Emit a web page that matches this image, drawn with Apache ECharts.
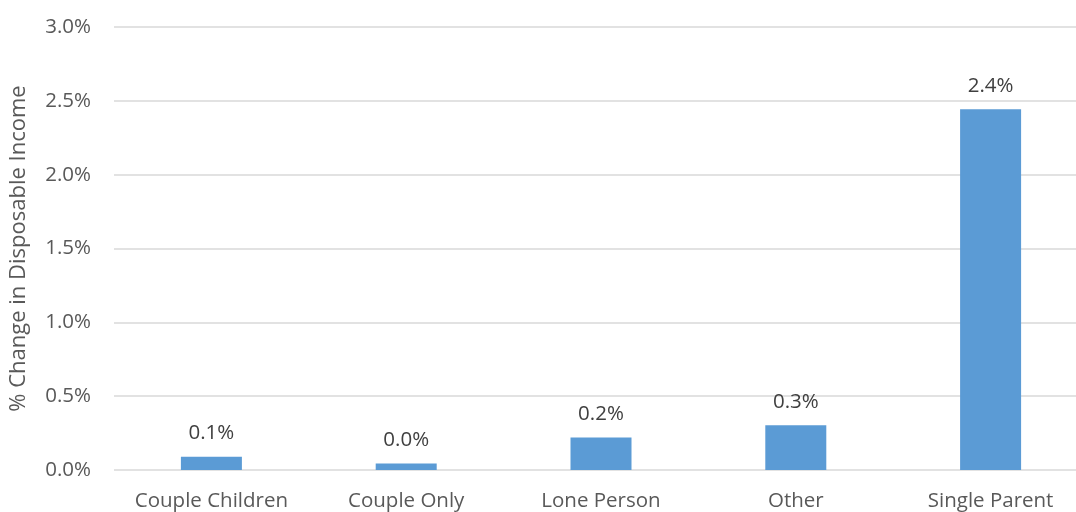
<!DOCTYPE html>
<html>
<head>
<meta charset="utf-8">
<script src="https://cdn.jsdelivr.net/npm/echarts@6/dist/echarts.min.js"></script>
<style>
  html, body { margin: 0; padding: 0; background: #ffffff; overflow: hidden; }
  #chart { width: 1088px; height: 512px; }
</style>
</head>
<body>
<div id="chart"></div>
<script>
// Household types and the % change in disposable income for each
const categories = ['Couple Children', 'Couple Only', 'Lone Person', 'Other', 'Single Parent'];
const changePct = [0.09, 0.044, 0.22, 0.303, 2.443];
const yTicks = [0, 0.5, 1.0, 1.5, 2.0, 2.5, 3.0];

const chart = echarts.init(document.getElementById('chart'), null, { renderer: 'canvas' });
const fontFamily = '"Open Sans", "Noto Sans", sans-serif';
const textColor = '#595959';

chart.setOption({
  animation: false,
  grid: { left: 113, right: 0, top: 27, bottom: 42, containLabel: false },
  xAxis: {
    type: 'category',
    data: categories,
    axisLine: { show: false },
    axisTick: { show: false },
    axisLabel: {
      color: textColor,
      fontFamily: fontFamily,
      fontSize: 20.5,
      margin: 21,
      interval: 0
    }
  },
  yAxis: {
    type: 'value',
    min: yTicks[0],
    max: yTicks[yTicks.length - 1],
    interval: 0.5,
    name: '% Change in Disposable Income',
    nameLocation: 'middle',
    nameGap: 84,
    nameRotate: 90,
    nameTextStyle: { color: textColor, fontFamily: fontFamily, fontSize: 22 },
    axisLine: { show: false },
    axisTick: { show: false },
    axisLabel: {
      color: textColor,
      fontFamily: fontFamily,
      fontSize: 20.5,
      margin: 23,
      formatter: v => v.toFixed(1) + '%'
    },
    splitLine: { lineStyle: { color: '#d9d9d9', width: 1.5 } }
  },
  series: [{
    type: 'bar',
    data: changePct,
    barWidth: 61,
    itemStyle: { color: '#5b9bd5' },
    label: {
      show: true,
      position: 'top',
      distance: 13,
      color: '#404040',
      fontFamily: fontFamily,
      fontSize: 20.5,
      formatter: p => p.value.toFixed(1) + '%'
    }
  }]
});
</script>
</body>
</html>
